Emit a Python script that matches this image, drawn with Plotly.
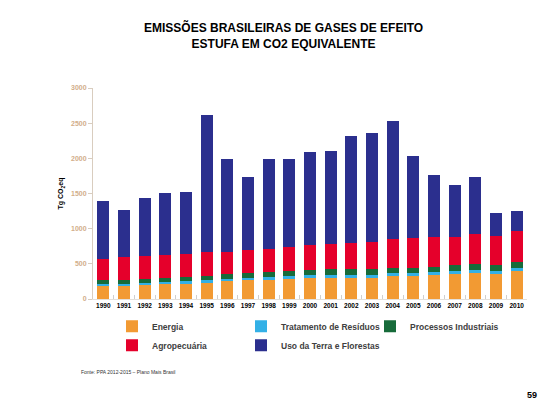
import plotly.graph_objects as go

years = [str(y) for y in range(1990, 2011)]

energia = [189, 189, 198, 212, 222, 241, 255, 264, 274, 288, 300, 302, 302, 302, 330, 326, 335, 354, 373, 354, 396]
residuos = [28, 30, 29, 29, 28, 27, 33, 36, 37, 38, 40, 42, 44, 45, 38, 42, 43, 40, 39, 39, 48]
processos = [52, 55, 61, 61, 61, 62, 71, 68, 76, 70, 75, 76, 74, 78, 76, 76, 80, 83, 88, 84, 85]
agropecuaria = [305, 328, 323, 319, 329, 338, 314, 334, 329, 339, 348, 362, 376, 390, 414, 428, 419, 409, 424, 423, 441]
uso_terra = [820, 659, 821, 882, 877, 1949, 1313, 1028, 1270, 1261, 1323, 1323, 1517, 1546, 1678, 1161, 886, 740, 806, 318, 277]

series = [
    ("Energia", energia, "#F29A33"),
    ("Tratamento de Resíduos", residuos, "#33B0E6"),
    ("Processos Industriais", processos, "#176B3A"),
    ("Agropecuária", agropecuaria, "#E5002B"),
    ("Uso da Terra e Florestas", uso_terra, "#2B2F8E"),
]

yticks = [0, 500, 1000, 1500, 2000, 2500, 3000]

fig = go.Figure()
for name, vals, col in series:
    fig.add_trace(go.Bar(x=years, y=vals, name=name, marker=dict(color=col, line=dict(width=0))))

FONT = "Liberation Sans, Arial, sans-serif"
# page offset of the figure (browser body margin)
OFF = 8
PL, PT, PW, PH = 93, 88.3, 434, 211
FW, FH = 557 - OFF, 419 - OFF


def px(x):
    return (x - PL) / PW


def py(y):
    return (PT + PH - y) / PH


fig.update_layout(
    width=FW, height=FH,
    barmode="stack", bargap=0.42,
    paper_bgcolor="white", plot_bgcolor="white",
    margin=dict(l=PL - OFF, r=FW - (PL - OFF) - PW, t=PT - OFF, b=FH - (PT - OFF) - PH,
                autoexpand=False),
    font=dict(family=FONT),
    showlegend=True,
    legend=dict(
        orientation="h", x=px(112), xanchor="left", y=py(312), yanchor="top",
        entrywidth=84, entrywidthmode="pixels",
        font=dict(family=FONT, size=8.5, color="#404040", weight="bold"),
        traceorder="normal", bgcolor="rgba(0,0,0,0)",
    ),
    xaxis=dict(
        type="category", showgrid=False, automargin=False,
        showline=True, linecolor="#E4E0DA", linewidth=1,
        ticks="inside", tickson="boundaries", ticklen=4, tickcolor="#CFCFCF",
        tickangle=0,
        tickfont=dict(family=FONT, size=6.5, color="black", weight="bold"),
    ),
    yaxis=dict(
        range=[0, 3000], tickvals=yticks, showgrid=False, zeroline=False,
        showline=True, linecolor="#D9CDBF", linewidth=1, automargin=False,
        ticks="outside", ticklen=4, tickcolor="#D9CDBF",
        tickfont=dict(family=FONT, size=7, color="#D2AE8A", weight="bold"),
        title=dict(text="Tg CO<sub>2</sub>eq", standoff=6,
                   font=dict(family=FONT, size=7, color="black", weight="bold")),
    ),
    annotations=[
        dict(text="EMISSÕES BRASILEIRAS DE GASES DE EFEITO<br>ESTUFA EM CO2 EQUIVALENTE",
             xref="paper", yref="paper", x=px(283), y=py(36), xanchor="center", yanchor="middle",
             showarrow=False, align="center",
             font=dict(family=FONT, size=12, color="black", weight="bold")),
        dict(text="Fonte: PPA 2012-2015 – Plano Mais Brasil", xref="paper", yref="paper",
             x=px(79), y=py(372), xanchor="left", yanchor="middle",
             showarrow=False, font=dict(family=FONT, size=5, color="#333333")),
        dict(text="59", xref="paper", yref="paper",
             x=px(539), y=py(395), xanchor="right", yanchor="middle",
             showarrow=False, font=dict(family=FONT, size=9, color="black", weight="bold")),
    ],
)

fig.write_html("out.html")
